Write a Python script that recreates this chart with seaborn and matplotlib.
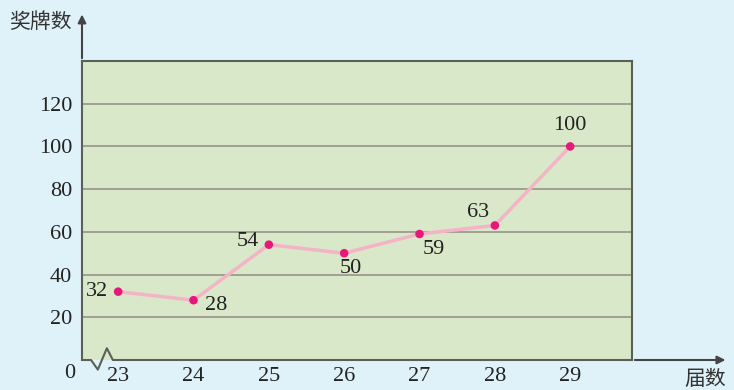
import matplotlib
matplotlib.use("Agg")
import matplotlib.pyplot as plt
import seaborn as sns
import pandas as pd

# data
sessions = [23, 24, 25, 26, 27, 28, 29]
medals = [32, 28, 54, 50, 59, 63, 100]
label_offsets = [(-15, 0), (16, -4), (-15, 2), (5, -11), (10, -11), (-12, 9), (0, 15)]
y_ticks = [20, 40, 60, 80, 100, 120]

sns.set_theme(style="white")
plt.rcParams["font.family"] = ["Liberation Serif", "Noto Sans CJK SC"]

df = pd.DataFrame({"session": sessions, "medals": medals})

fig = plt.figure(figsize=(7.34, 3.90), dpi=100, facecolor="#e0f2f9")
ax = fig.add_axes([82 / 734, 30 / 390, 550 / 734, 299 / 390])
ax.set_facecolor("#d9e8c9")

for y in y_ticks:
    ax.axhline(y, color="#a39f92", lw=1.4, zorder=1)

sns.lineplot(data=df, x="session", y="medals", ax=ax, color="#f5b3c8", lw=2.5, zorder=3)
sns.scatterplot(data=df, x="session", y="medals", ax=ax, color="#e8177c", s=38,
                edgecolor="none", zorder=4)

for x, y, (dx, dy) in zip(sessions, medals, label_offsets):
    ax.annotate(str(y), (x, y), xytext=(dx, dy), textcoords="offset points",
                ha="center", va="center", fontsize=16, color="#222222")

ax.set_xlim(22.52, 29.82)
ax.set_ylim(0, 140)
ax.set_xticks(sessions)
ax.set_yticks(y_ticks)
ax.set_xlabel("")
ax.set_ylabel("")
ax.tick_params(axis="y", length=0, pad=7, labelsize=16, colors="#222222")
ax.tick_params(axis="x", direction="in", length=5, width=1.2, color="#555555",
               pad=5, labelsize=16, labelcolor="#222222")

for side in ["top", "right", "left"]:
    ax.spines[side].set_color("#5a5f5a")
    ax.spines[side].set_linewidth(1.5)
ax.spines["bottom"].set_visible(False)

# bottom axis with the break mark
ax.plot([22.52, 22.64, 22.73, 22.85, 22.93, 29.82], [0, 0, -4.5, 5.5, 0, 0],
        color="#5a5f5a", lw=1.5, clip_on=False, zorder=5)

arrow = dict(arrowstyle="-|>", color="#444444", lw=1.5, mutation_scale=12)
ax.annotate("", xy=(1.175, 0), xytext=(1.0, 0), xycoords="axes fraction",
            arrowprops=arrow, annotation_clip=False)
ax.annotate("", xy=(0, 1.165), xytext=(0, 1.0), xycoords="axes fraction",
            arrowprops=arrow, annotation_clip=False)

ax.text(-0.013, -0.045, "0", transform=ax.transAxes, ha="right", va="center",
        fontsize=16, color="#222222")
ax.text(-0.076, 1.13, "奖牌数", transform=ax.transAxes, ha="center", va="center",
        fontsize=15, color="#333333", family=["Noto Sans CJK SC"])
ax.text(1.133, -0.062, "届数", transform=ax.transAxes, ha="center", va="center",
        fontsize=15, color="#333333", family=["Noto Sans CJK SC"])

fig.savefig("out.png", dpi=100, facecolor=fig.get_facecolor())
